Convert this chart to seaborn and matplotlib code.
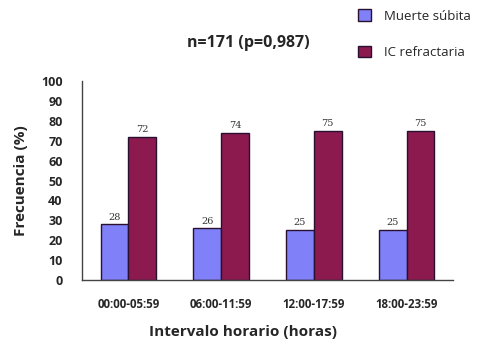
import matplotlib
matplotlib.use("Agg")
import matplotlib.pyplot as plt
import seaborn as sns
import pandas as pd
import numpy as np

# Data
intervalos = ["00:00-05:59", "06:00-11:59", "12:00-17:59", "18:00-23:59"]
muerte_subita = [28, 26, 25, 25]
ic_refractaria = [72, 74, 75, 75]
series = ["Muerte súbita", "IC refractaria"]
y_ticks = list(range(0, 101, 10))

df = pd.DataFrame({
    "intervalo": intervalos * 2,
    "serie": [series[0]] * len(intervalos) + [series[1]] * len(intervalos),
    "frecuencia": muerte_subita + ic_refractaria,
})

sns.set_style("white")
plt.rcParams["font.family"] = ["Open Sans", "DejaVu Sans"]

fig = plt.figure(figsize=(4.78, 3.49), dpi=100)
ax = fig.add_axes([0.1715, 0.1977, 0.776, 0.570])

palette = {series[0]: "#8080F8", series[1]: "#8C1A4E"}
sns.barplot(data=df, x="intervalo", y="frecuencia", hue="serie",
            order=intervalos, hue_order=series, palette=palette,
            width=0.6, edgecolor="#2a1030", linewidth=1.0,
            saturation=1, ax=ax, legend=False)

# value labels above each bar
for cont in ax.containers:
    ax.bar_label(cont, labels=[f"{v:g}" for v in cont.datavalues],
                 padding=2, fontsize=7, family="DejaVu Serif", color="#333333")

ax.set_ylim(0, 100)
ax.set_yticks(y_ticks)
ax.set_xlim(-0.5, len(intervalos) - 0.5)
ax.set_xticks(np.arange(len(intervalos)))
ax.set_xticks(np.arange(-0.5, len(intervalos)), minor=True)
ax.tick_params(axis="x", which="major", length=0, pad=13, labelsize=8.3)
ax.tick_params(axis="x", which="minor", length=3, direction="out", color="#444444")
ax.tick_params(axis="y", which="major", length=3, direction="out", color="#444444",
               labelsize=9, pad=11)
for lbl in ax.get_xticklabels() + ax.get_yticklabels():
    lbl.set_fontweight("bold")

for side in ["top", "right"]:
    ax.spines[side].set_visible(False)
for side in ["left", "bottom"]:
    ax.spines[side].set_color("#444444")
    ax.spines[side].set_linewidth(1.0)

ax.set_xlabel("Intervalo horario (horas)", fontsize=11, fontweight="bold")
ax.xaxis.set_label_coords(0.434, -0.225)
ax.set_ylabel("Frecuencia (%)", fontsize=11, fontweight="bold", labelpad=9)

fig.text(0.519, 0.877, "n=171 (p=0,987)", ha="center", va="center",
         fontsize=11.5, fontweight="bold")

handles = [plt.Rectangle((0, 0), 1, 1, facecolor=palette[s], edgecolor="#2a1030")
           for s in series]
fig.legend(handles, series, loc="upper left", bbox_to_anchor=(0.724, 1.008),
           frameon=False, fontsize=9.5, handlelength=1.0, handleheight=1.0,
           labelspacing=1.75, handletextpad=1.0)

fig.savefig("out.png", dpi=100)
